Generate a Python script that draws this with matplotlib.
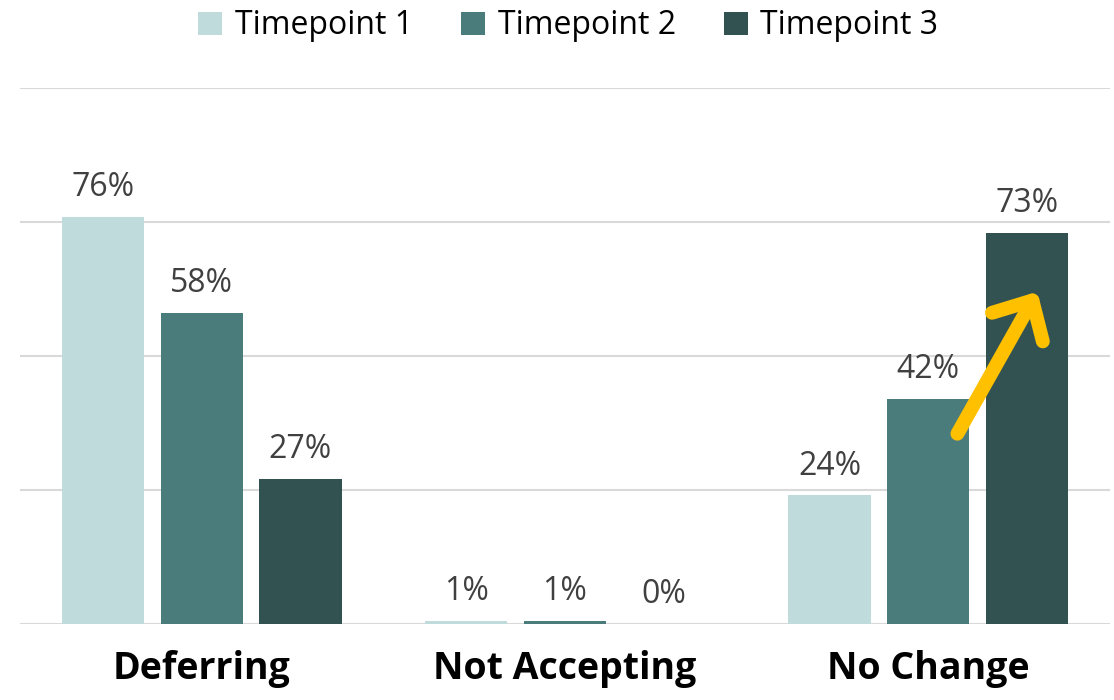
import numpy as np
import matplotlib.pyplot as plt
from matplotlib.patches import Patch

plt.rcParams['font.family'] = ['Open Sans', 'DejaVu Sans']

categories = ['Deferring', 'Not Accepting', 'No Change']
series = ['Timepoint 1', 'Timepoint 2', 'Timepoint 3']
tp1 = [76, 0.6, 24]
tp2 = [58, 0.6, 42]
tp3 = [27, 0.0, 73]
colors = ['#C0DBDB', '#4A7C7C', '#325252']

fig = plt.figure(figsize=(11.14, 7), dpi=100)
ax = fig.add_axes([20 / 1114, 76 / 700, 1090 / 1114, 536 / 700])

x = np.arange(len(categories))
width = 0.226
step = 0.272
for i, (vals, c) in enumerate(zip([tp1, tp2, tp3], colors)):
    pos = x + (i - 1) * step
    ax.bar(pos, vals, width=width, color=c, zorder=3)
    for px, v in zip(pos, vals):
        ax.annotate(f'{v:.0f}%', (px, v), xytext=(0, 15), textcoords='offset points',
                    ha='center', va='baseline', fontsize=23, color='#404040')

ax.set_xlim(-0.5, 2.5)
ax.set_ylim(0, 100)
ax.set_yticks([0, 25, 50, 75, 100])
ax.yaxis.grid(True, color='#D9D9D9', linewidth=1.5, zorder=0)
ax.tick_params(axis='y', left=False, labelleft=False)
ax.tick_params(axis='x', bottom=False, pad=15)
ax.set_xticks(x)
ax.set_xticklabels(categories, fontsize=27, fontweight='bold', color='black')
for s in ['left', 'right', 'top', 'bottom']:
    ax.spines[s].set_visible(False)

# trend arrow
ax.annotate('', xy=(2.30, 62), xytext=(2.08, 35.5),
            arrowprops=dict(arrowstyle='->,head_length=1.1,head_width=1.05',
                            color='#FFC000', lw=10, capstyle='round',
                            joinstyle='round', mutation_scale=20,
                            shrinkA=0, shrinkB=0), zorder=5)

handles = [Patch(facecolor=c, label=s) for c, s in zip(colors, series)]
fig.legend(handles=handles, loc='center', bbox_to_anchor=(0.51, 1 - 26 / 700),
           ncol=3, frameon=False, fontsize=23, handlelength=0.75, handleheight=0.75,
           handletextpad=0.4, columnspacing=1.5)

fig.savefig('out.png', dpi=100)
